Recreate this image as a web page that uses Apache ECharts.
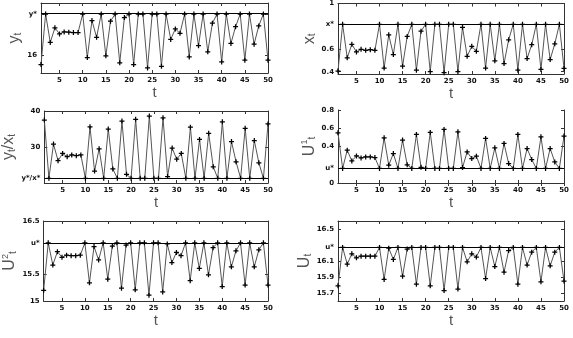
<!DOCTYPE html>
<html><head><meta charset="utf-8">
<script src="https://cdn.jsdelivr.net/npm/echarts@6/dist/echarts.min.js"></script>
<style>html,body{margin:0;padding:0;background:#fff}#c{width:573px;height:338px}</style>
</head><body><div id="c"></div>
<script>
const tValues=[1,2,3,4,5,6,7,8,9,10,11,12,13,14,15,16,17,18,19,20,21,22,23,24,25,26,27,28,29,30,31,32,33,34,35,36,37,38,39,40,41,42,43,44,45,46,47,48,49,50];
const xTicks=[5,10,15,20,25,30,35,40,45,50];

const yStar=16.237;
const yVals=[15.948,16.237,16.075,16.158,16.123,16.135,16.133,16.131,16.131,16.237,15.988,16.2,16.104,16.237,15.998,16.196,16.237,15.958,16.217,16.237,15.948,16.237,16.237,15.929,16.237,16.237,15.938,16.237,16.092,16.152,16.127,16.237,15.992,16.237,16.056,16.237,16.021,16.185,16.237,15.963,16.237,16.069,16.165,16.237,15.973,16.237,16.065,16.169,16.237,15.973];
const yTickVals=[16,16.237];
const yTickLabels=['16','y*'];

const xStar=0.817;
const xVals=[0.406,0.817,0.522,0.641,0.574,0.597,0.588,0.594,0.588,0.817,0.432,0.725,0.551,0.817,0.449,0.71,0.817,0.414,0.757,0.817,0.4,0.817,0.817,0.391,0.817,0.817,0.4,0.791,0.536,0.623,0.58,0.817,0.432,0.817,0.496,0.817,0.472,0.681,0.817,0.414,0.817,0.516,0.638,0.817,0.42,0.817,0.507,0.646,0.817,0.429];
const xTickVals=[0.4,0.6,0.817,1];
const xTickLabels=['0.4','0.6','x*','1'];

const ratioStar=21.3;
const ratioVals=[37.5,21.3,30.8,26.2,28.2,27.3,27.8,27.6,27.8,21.3,35.6,23.3,29.5,21.3,35.0,23.9,21.3,37.2,22.4,21.3,37.7,21.3,21.3,38.6,21.3,21.3,38.1,21.8,29.7,26.6,28.2,21.3,35.5,21.3,32.1,21.3,33.8,24.5,21.3,37.0,21.3,31.5,25.9,21.3,35.2,21.3,31.8,25.6,21.3,36.4];
const ratioTickVals=[21.3,30,40];
const ratioTickLabels=['y*/x*','30','40'];

const u1Star=0.16;
const u1Vals=[0.55,0.16,0.36,0.242,0.297,0.275,0.286,0.286,0.279,0.16,0.495,0.195,0.323,0.16,0.47,0.2,0.16,0.532,0.172,0.16,0.554,0.16,0.16,0.587,0.16,0.16,0.561,0.169,0.341,0.268,0.294,0.16,0.488,0.16,0.385,0.16,0.433,0.213,0.16,0.532,0.16,0.378,0.257,0.16,0.506,0.16,0.378,0.231,0.16,0.514];
const u1TickVals=[0,0.16,0.4,0.6,0.8];
const u1TickLabels=['0','u*','0.4','0.6','0.8'];

const u2Star=16.09;
const u2Vals=[15.2,16.09,15.675,15.925,15.82,15.86,15.85,15.85,15.86,16.09,15.34,16.02,15.77,16.09,15.41,16.03,16.09,15.24,16.05,16.09,15.21,16.09,16.09,15.11,16.09,16.09,15.17,16.07,15.72,15.91,15.85,16.09,15.38,16.09,15.61,16.09,15.49,16.0,16.09,15.27,16.09,15.64,15.94,16.09,15.3,16.09,15.64,15.96,16.09,15.3];
const u2TickVals=[15,15.5,16.09,16.5];
const u2TickLabels=['15','15.5','u*','16.5'];

const uStar=16.27;
const uVals=[15.79,16.27,16.06,16.19,16.14,16.16,16.16,16.16,16.16,16.27,15.87,16.26,16.12,16.27,15.91,16.25,16.27,15.81,16.27,16.27,15.79,16.27,16.27,15.73,16.27,16.27,15.75,16.27,16.09,16.19,16.15,16.27,15.88,16.27,16.03,16.27,15.96,16.23,16.27,15.81,16.27,16.05,16.21,16.27,15.84,16.27,16.04,16.21,16.27,15.85];
const uTickVals=[15.7,15.9,16.1,16.27,16.5];
const uTickLabels=['15.7','15.9','16.1','u*','16.5'];

const panels=[
 {vals:yVals,star:yStar,tv:yTickVals,tl:yTickLabels,min:15.9,max:16.3,name:'{m|y}{s|t}',g:{left:41,right:305,top:3,height:70}},
 {vals:xVals,star:xStar,tv:xTickVals,tl:xTickLabels,min:0.38,max:1,name:'{m|x}{s|t}',g:{left:338,right:9,top:3,height:71}},
 {vals:ratioVals,star:ratioStar,tv:ratioTickVals,tl:ratioTickLabels,min:20,max:40,name:'{m|y}{s|t}{m|/x}{s|t}',g:{left:41,right:305,top:111,height:72}},
 {vals:u1Vals,star:u1Star,tv:u1TickVals,tl:u1TickLabels,min:0,max:0.8,name:'{m|U}{p|1}{s|t}',g:{left:338,right:9,top:110,height:73}},
 {vals:u2Vals,star:u2Star,tv:u2TickVals,tl:u2TickLabels,min:15,max:16.5,name:'{m|U}{p|2}{s|t}',g:{left:41,right:305,top:221,height:80}},
 {vals:uVals,star:uStar,tv:uTickVals,tl:uTickLabels,min:15.6,max:16.6,name:'{m|U}{s|t}',g:{left:338,right:9,top:221,height:80}}
];

const AX='#333', TXT='#111';
const lblStyle={fontSize:7,fontWeight:'bold',color:TXT,fontFamily:'DejaVu Sans'};
const grid=[],xAxis=[],yAxis=[],series=[];
panels.forEach((p,i)=>{
  grid.push(Object.assign({show:false},p.g));
  xAxis.push({gridIndex:i,type:'value',min:1,max:50,position:'bottom',
    axisLine:{lineStyle:{color:AX,width:1}},splitLine:{show:false},
    axisTick:{inside:true,length:3,customValues:xTicks,lineStyle:{color:AX}},
    axisLabel:Object.assign({customValues:xTicks,margin:4},lblStyle),
    name:'t',nameLocation:'middle',nameGap:5,nameTextStyle:{fontSize:15,color:'#555',fontFamily:'Liberation Sans',verticalAlign:'top'}});
  xAxis.push({gridIndex:i,type:'value',min:1,max:50,position:'top',
    axisLine:{lineStyle:{color:AX,width:1}},splitLine:{show:false},
    axisTick:{inside:true,length:3,customValues:xTicks,lineStyle:{color:AX}},
    axisLabel:{show:false}});
  const tv=p.tv,tl=p.tl;
  yAxis.push({gridIndex:i,type:'value',min:p.min,max:p.max,position:'left',
    axisLine:{show:true,lineStyle:{color:AX,width:1}},splitLine:{show:false},
    axisTick:{show:true,inside:true,length:3,customValues:tv,lineStyle:{color:AX}},
    axisLabel:Object.assign({customValues:tv,margin:4,formatter:v=>{let b=0;tv.forEach((t,k)=>{if(Math.abs(t-v)<Math.abs(tv[b]-v))b=k;});return tl[b];}},lblStyle),
    name:p.name,nameLocation:'middle',nameGap:18,nameRotate:90,
    nameTextStyle:{color:'#555',fontFamily:'Liberation Sans',rich:{
      m:{fontSize:16,color:'#555',fontFamily:'Liberation Sans'},
      s:{fontSize:10,color:'#555',fontFamily:'Liberation Sans',padding:[7,0,0,0]},
      p:{fontSize:9,color:'#555',fontFamily:'Liberation Sans',padding:[0,0,9,0]}}}});
  yAxis.push({gridIndex:i,type:'value',min:p.min,max:p.max,position:'right',
    axisLine:{show:true,lineStyle:{color:AX,width:1}},splitLine:{show:false},
    axisTick:{show:true,inside:true,length:3,customValues:tv,lineStyle:{color:AX}},
    axisLabel:{show:false}});
  series.push({type:'line',xAxisIndex:2*i,yAxisIndex:2*i,
    data:p.vals.map((v,k)=>[tValues[k],v]),
    symbol:'path://M3,0H5V3H8V5H5V8H3V5H0V3H3Z',symbolSize:5,
    lineStyle:{color:'#555',width:1},itemStyle:{color:'#000'},
    animation:false,
    markLine:{silent:true,symbol:'none',label:{show:false},animation:false,
      lineStyle:{color:'#000',width:1,type:'solid'},data:[{yAxis:p.star}]}});
});
const chart=echarts.init(document.getElementById('c'),null,{renderer:'canvas'});
chart.setOption({animation:false,grid,xAxis,yAxis,series});
</script></body></html>
